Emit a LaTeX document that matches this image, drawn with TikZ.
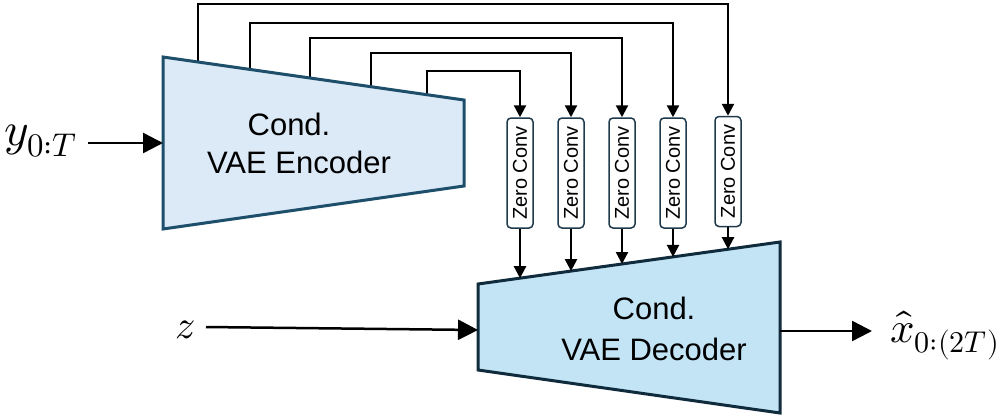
\documentclass[tikz,border=0pt]{standalone}
\usepackage{fontspec}
\usepackage{unicode-math}
\usepackage{graphicx}
\setmainfont{Liberation Sans}
\setmathfont{Latin Modern Math}
\usetikzlibrary{arrows.meta}
\definecolor{encfill}{HTML}{DCE9F6}
\definecolor{encline}{HTML}{1D4F6B}
\definecolor{decfill}{HTML}{C2E4F5}
\definecolor{decline}{HTML}{0F2B3C}
\definecolor{zcline}{HTML}{1E3A4C}
\begin{document}
\begin{tikzpicture}[x=1pt,y=-1pt,
  conn/.style={line width=2.3pt, -{Triangle[length=12pt,width=12pt]}},
  bigarr/.style={line width=2.5pt, -{Triangle[length=20pt,width=20pt]}},
  zconv/.style={draw=zcline, line width=1.5pt, fill=white, rounded corners=4pt,
    minimum width=26pt, minimum height=110pt, inner sep=0pt,
    font=\fontsize{20}{23}\selectfont},
  lbl/.style={font=\fontsize{31}{37}\selectfont, inner sep=0pt, anchor=base},
  mathlbl/.style={inner sep=0pt, anchor=base west},
  encstyle/.style={draw=encline, fill=encfill, line width=3pt, line join=miter},
  decstyle/.style={draw=decline, fill=decfill, line width=3pt, line join=miter}]
\useasboundingbox (0,0) rectangle (998,418);

% encoder edge points and levels
\coordinate (e1) at (198,62);
\coordinate (e2) at (250,69.4);
\coordinate (e3) at (310,78);
\coordinate (e4) at (371,86.7);
\coordinate (e5) at (427,94.7);
\coordinate (h1) at (0,4);
\coordinate (h2) at (0,23);
\coordinate (h3) at (0,38);
\coordinate (h4) at (0,53);
\coordinate (h5) at (0,71);

% zero conv boxes
\node[zconv] (z1) at (520,173) {\rotatebox{90}{Zero Conv}};
\node[zconv] (z2) at (571,173) {\rotatebox{90}{Zero Conv}};
\node[zconv] (z3) at (622,173) {\rotatebox{90}{Zero Conv}};
\node[zconv] (z4) at (673,173) {\rotatebox{90}{Zero Conv}};
\node[zconv] (z5) at (728,171.5) {\rotatebox{90}{Zero Conv}};

% skip connections
\draw[conn] (e1) -- (e1 |- h1) -- (z5.north |- h1) -- (z5.north);
\draw[conn] (e2) -- (e2 |- h2) -- (z4.north |- h2) -- (z4.north);
\draw[conn] (e3) -- (e3 |- h3) -- (z3.north |- h3) -- (z3.north);
\draw[conn] (e4) -- (e4 |- h4) -- (z2.north |- h4) -- (z2.north);
\draw[conn] (e5) -- (e5 |- h5) -- (z1.north |- h5) -- (z1.north);

% encoder
\draw[encstyle] (163,57) -- (464,100) -- (464,186) -- (163,229) -- cycle;
\node[lbl] (enct) at (289,135) {Cond.};
\node[lbl] (encb) at (299,173) {VAE Encoder};

% decoder
\draw[decstyle] (478,284) -- (780,242) -- (780,413) -- (478,370) -- cycle;
\node[lbl] (dect) at (654,319) {Cond.};
\node[lbl] (decb) at (654,360) {VAE Decoder};

% decoder top edge points
\coordinate (d1) at (520,278.2);
\coordinate (d2) at (571,271.1);
\coordinate (d3) at (622,264);
\coordinate (d4) at (673,256.9);
\coordinate (d5) at (728,249.2);
\draw[conn] (z1.south) -- (d1);
\draw[conn] (z2.south) -- (d2);
\draw[conn] (z3.south) -- (d3);
\draw[conn] (z4.south) -- (d4);
\draw[conn] (z5.south) -- (d5);

% inputs / outputs
\node[mathlbl, font=\fontsize{47}{52}\selectfont] (ylab) at (4,145) {$y_{0:T}$};
\coordinate (ys) at (88,143);
\coordinate (encin) at (163,143);
\draw[bigarr] (ys) -- (encin);

\node[mathlbl, font=\fontsize{40}{46}\selectfont] (zlab) at (175,338) {$z$};
\coordinate (zs) at (206,327);
\coordinate (decin) at (478,330);
\draw[bigarr] (zs) -- (decin);

\coordinate (decout) at (780,331);
\coordinate (xe) at (872,331);
\draw[bigarr] (decout) -- (xe);
\node[mathlbl, font=\fontsize{43}{48}\selectfont] (xlab) at (890,342) {$\hat{x}_{0:(2T)}$};
\end{tikzpicture}
\end{document}
